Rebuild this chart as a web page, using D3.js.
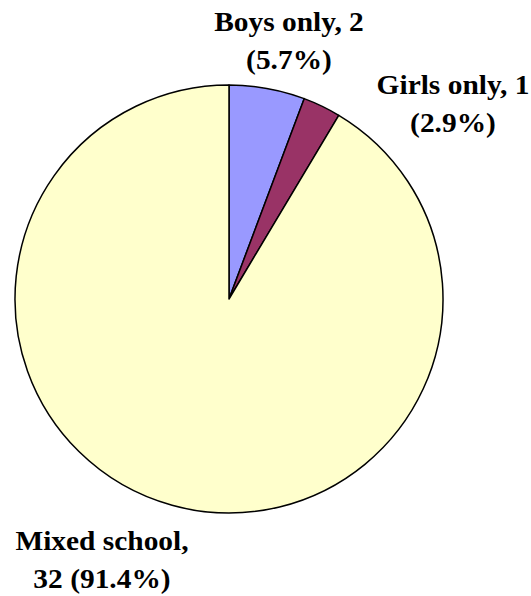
<!DOCTYPE html>
<html>
<head>
<meta charset="utf-8">
<script src="https://cdn.jsdelivr.net/npm/d3@7/dist/d3.min.js"></script>
<style>
  html, body { margin: 0; padding: 0; background: #fff; }
  svg { display: block; }
</style>
</head>
<body>
<svg id="chart" width="531" height="596"></svg>
<script>
const categories = ["Boys only", "Girls only", "Mixed school"];
const counts = [2, 1, 32];
const percentLabels = ["5.7%", "2.9%", "91.4%"];
const colors = ["#9999FF", "#993366", "#FFFFCC"];

// label text lines
const labelLines = [
  [categories[0] + ", " + counts[0], "(" + percentLabels[0] + ")"],
  [categories[1] + ", " + counts[1], "(" + percentLabels[1] + ")"],
  [categories[2] + ",", counts[2] + " (" + percentLabels[2] + ")"]
];

const W = 531, H = 596;
const cx = 229, cy = 299, R = 214;
const lineH = 38;
const stretchX = 1.07;
// label first-baseline offsets from pie centre (layout, not data)
const labelOffsets = [[60, -268], [224, -205], [-127, 251]];

const svg = d3.select("#chart");
const g = svg.append("g").attr("transform", `translate(${cx},${cy})`);

const pie = d3.pie().sort(null).value(d => d)(counts);
const arc = d3.arc().innerRadius(0).outerRadius(R);

g.selectAll("path.slice")
  .data(pie)
  .join("path")
  .attr("class", "slice")
  .attr("d", arc)
  .attr("fill", (d, i) => colors[i])
  .attr("stroke", "#000")
  .attr("stroke-width", 1.5)
  .attr("stroke-linejoin", "round");

const labels = g.selectAll("text.lbl")
  .data(pie)
  .join("text")
  .attr("class", "lbl")
  .attr("text-anchor", "middle")
  .attr("font-family", "'Liberation Serif', 'Times New Roman', Times, serif")
  .attr("font-weight", "bold")
  .attr("font-size", 27.5)
  .attr("fill", "#000")
  .attr("transform", (d, i) => `translate(${labelOffsets[i][0]},${labelOffsets[i][1]}) scale(${stretchX},1)`);

labels.each(function(d, i) {
  const t = d3.select(this);
  labelLines[i].forEach((line, j) => {
    t.append("tspan")
      .attr("x", 0)
      .attr("dy", j === 0 ? 0 : lineH)
      .text(line);
  });
});
</script>
</body>
</html>
